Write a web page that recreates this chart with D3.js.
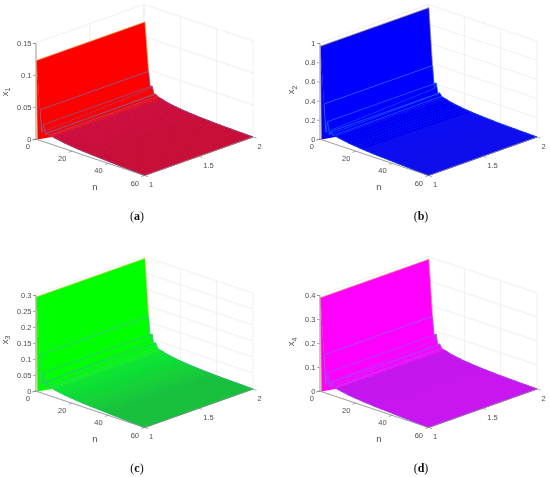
<!DOCTYPE html>
<html>
<head>
    <script type="text/javascript" src="https://cdn.jsdelivr.net/npm/d3@7/dist/d3.min.js"></script>
    <style>
        html, body { margin: 0; padding: 0; background: #fff; }
        text { font-family: "Liberation Sans", sans-serif; fill: #4d4d4d; }
    </style>
</head>
<body>
    <div id="viz"></div>
    <script type="text/javascript">

    // n samples along the surface, first one is the tall wall
    var nGrid = [0.5, 2.5, 3.5, 4.5, 5.5, 6.5, 7.5, 8.5, 9.5, 10.5, 12, 14, 16, 18, 20, 22, 24, 26, 28, 30, 32, 34, 36, 38, 40, 42, 44, 46, 48, 50, 52, 54, 56, 58, 60];

    var nTicks = [0, 20, 40, 60];
    var mTicks = [1, 1.5, 2];

    // values along the m=1 edge and the m=2 edge
    var x1Front = [.123, .048, .014, .027, .0125, .016, .0125, .0125, .0125, .0119, .0109, .01, .009, .0083, .0076, .007, .0064, .0059, .0055, .005, .0047, .0044, .0041, .0037, .0034, .003, .0027, .0023, .002, .0017, .0014, .0011, .0007, .0003, 0];
    var x1Back = [.123, .048, .022, .027, .0155, .016, .0137, .0128, .0119, .0111, .0097, .0084, .0075, .0066, .0058, .0051, .0045, .0041, .0036, .0031, .0028, .0025, .0022, .0019, .0016, .0014, .0012, .001, .0009, .0007, .0006, .0004, .0003, .0002, 0];
    var x2Front = [.97, .38, .094, .21, .083, .12, .083, .083, .083, .079, .073, .067, .06, .055, .051, .047, .043, .04, .036, .033, .031, .029, .027, .025, .023, .02, .018, .016, .014, .011, .009, .007, .005, .002, 0];
    var x2Back = [.97, .38, .146, .21, .104, .12, .092, .085, .079, .074, .064, .056, .05, .044, .038, .034, .03, .027, .024, .021, .019, .017, .015, .012, .011, .009, .008, .007, .006, .005, .004, .003, .002, .001, 0];
    var x3Front = [.295, .118, .028, .066, .025, .043, .025, .025, .025, .0238, .0219, .02, .0181, .0166, .0153, .0141, .0128, .0119, .0109, .01, .0094, .0088, .0081, .0075, .0069, .0059, .0053, .0047, .0041, .0034, .0028, .0022, .0014, .0006, 0];
    var x3Back = [.295, .118, .044, .066, .031, .043, .0275, .0256, .0238, .0222, .0194, .0169, .015, .0131, .0116, .0103, .0091, .0081, .0072, .0063, .0056, .005, .0044, .0038, .0033, .0028, .0024, .0021, .0018, .0014, .0012, .0009, .0006, .0003, 0];
    var x4Front = [.39, .157, .038, .087, .033, .052, .033, .033, .033, .032, .029, .027, .024, .022, .02, .019, .017, .016, .015, .013, .0125, .0117, .0108, .01, .0092, .0079, .0071, .0063, .0054, .0046, .0038, .0029, .0019, .0008, 0];
    var x4Back = [.39, .157, .058, .087, .042, .052, .037, .034, .032, .03, .026, .023, .02, .018, .015, .014, .012, .011, .0096, .0083, .0075, .0067, .0058, .005, .0044, .0038, .0033, .0028, .0023, .0019, .0015, .0012, .0008, .0004, 0];

    var x1Ticks = [0, .05, .1, .15];
    var x2Ticks = [0, .2, .4, .6, .8, 1];
    var x3Ticks = [0, .05, .1, .15, .2, .25, .3];
    var x4Ticks = [0, .1, .2, .3, .4];

    var captions = ["a", "b", "c", "d"];
    var subs = ["1", "2", "3", "4"];

    // screen stuff per panel
    var panels = [
        { dx: 0,   dy: 0,   front: x1Front, back: x1Back, ticks: x1Ticks, wall: "#ff0000", mid: "#cc1040", flat: "#c81038", line: "#6e64aa", stripes: 0,   labelX: 7.5, labelY: 92, idx: 0 },
        { dx: 284, dy: 0,   front: x2Front, back: x2Back, ticks: x2Ticks, wall: "#0000ff", mid: "#0404f6", flat: "#0a0aee", line: "#2070f0", stripes: .18, labelX: 10,  labelY: 90, idx: 1 },
        { dx: 0,   dy: 252, front: x3Front, back: x3Back, ticks: x3Ticks, wall: "#00ff00", mid: "#0ce632", flat: "#18c03c", line: "#3cb496", stripes: .22, labelX: 7.5, labelY: 88, idx: 2 },
        { dx: 284, dy: 252, front: x4Front, back: x4Back, ticks: x4Ticks, wall: "#ff00ff", mid: "#c414ee", flat: "#c814f0", line: "#8a5af0", stripes: 0,   labelX: 10,  labelY: 90, idx: 3 }
    ];

    var originX = 35.5;
    var originY = 139;

    var nToX = d3.scaleLinear().domain([0, 60]).range([0, 109]);
    var nToY = d3.scaleLinear().domain([0, 60]).range([0, 36.5]);
    var mToX = d3.scaleLinear().domain([1, 2]).range([0, 108.5]);
    var mToY = d3.scaleLinear().domain([1, 2]).range([0, -38.5]);

    var svg = d3.select("#viz").append("svg")
        .attr("width", 550)
        .attr("height", 477)
        .style("display", "block");

    // the reference is a soft raster
    svg.append("defs").append("filter")
        .attr("id", "soft")
        .attr("x", 0).attr("y", 0).attr("width", 1).attr("height", 1)
        .append("feGaussianBlur")
        .attr("stdDeviation", 0.3);

    var root = svg.append("g").attr("filter", "url(#soft)");
    root.append("rect").attr("width", 550).attr("height", 477).attr("fill", "#fff");

    var line = d3.line();

    function drawPanel(p)
    {
        var zMax = p.ticks[p.ticks.length - 1];
        var zToY = d3.scaleLinear().domain([0, zMax]).range([0, -96]);

        // 3d -> screen
        function project(n, m, z)
        {
            return [originX + nToX(n) + mToX(m), originY + nToY(n) + mToY(m) + zToY(z)];
        }

        var g = root.append("g").attr("transform", "translate(" + p.dx + "," + p.dy + ")");

        function drawLine(pts, color, width, opacity)
        {
            g.append("path")
                .attr("d", line(pts))
                .attr("fill", "none")
                .attr("stroke", color)
                .attr("stroke-width", width)
                .attr("stroke-opacity", opacity === undefined ? 1 : opacity);
        }

        // grid on the two back walls and the floor
        var gridColor = "#e9e9e9";
        p.ticks.forEach(function(t) {
            if( t === 0 ) return;
            drawLine([project(0, 1, t), project(0, 2, t), project(60, 2, t)], gridColor, 0.7);
        });
        nTicks.forEach(function(t) {
            drawLine([project(t, 1, 0), project(t, 2, 0), project(t, 2, zMax)], gridColor, 0.7);
        });
        mTicks.forEach(function(t) {
            drawLine([project(60, t, 0), project(0, t, 0), project(0, t, zMax)], gridColor, 0.7);
        });

        // lower left piece under the first ridges
        var skirt = [project(1, 1, 0), project(nGrid[8], 1, p.front[8])];
        for( var s = 7; s >= 0; s-- )
        {
            skirt.push(project(nGrid[s], 1, p.front[s]));
        }
        g.append("path").attr("d", line(skirt) + "Z").attr("fill", p.wall);

        // facets, back to front so the later ones cover the earlier ones
        var color = d3.scaleLinear()
            .domain([6.5, 10, 40])
            .range([p.wall, p.mid, p.flat])
            .clamp(true);

        for( var i = 0; i < nGrid.length - 1; i++ )
        {
            var a0 = project(nGrid[i], 1, p.front[i]);
            var a1 = project(nGrid[i], 2, p.back[i]);
            var b1 = project(nGrid[i + 1], 2, p.back[i + 1]);
            var b0 = project(nGrid[i + 1], 1, p.front[i + 1]);
            var c = color(nGrid[i]);
            g.append("path")
                .attr("d", line([a0, a1, b1, b0]) + "Z")
                .attr("fill", c)
                .attr("stroke", c)
                // thicker stroke on the flat part so no seams show between facets
                .attr("stroke-width", i >= 8 ? 1 : 0.4);

            if( p.stripes > 0 && i > 5 && i < 24 )
            {
                drawLine([b0, b1], p.line, 0.5, p.stripes);
            }
        }

        // mesh lines on the ridges
        for( var r = 1; r <= 6; r++ )
        {
            drawLine([project(nGrid[r], 1, p.front[r]), project(nGrid[r], 2, p.back[r])], p.line, 0.7, r % 2 === 1 ? 1 : 0.7);
        }
        var frontEdge = [];
        var backEdge = [];
        for( var e = 1; e < nGrid.length; e++ )
        {
            if( e <= 6 ) frontEdge.push(project(nGrid[e], 1, p.front[e]));
            backEdge.push(project(nGrid[e], 2, p.back[e]));
        }
        drawLine(frontEdge, p.line, 0.7);
        drawLine(backEdge, p.line, 0.7, 0.8);

        // lower edge of the flat part
        var lowEdge = [];
        for( var f = 8; f < nGrid.length; f++ )
        {
            lowEdge.push(project(nGrid[f], 1, p.front[f]));
        }
        drawLine(lowEdge, p.line, 0.6, 0.7);

        // thin light edge round the wall
        drawLine([project(1, 1, 0), project(nGrid[0], 1, p.front[0]), project(nGrid[0], 2, p.back[0]), project(nGrid[1], 2, p.back[1])], "#f5c842", 0.7, 0.75);

        // n and m axes
        var axisColor = "#8a8a8a";
        drawLine([project(0, 1, 0), project(60, 1, 0), project(60, 2, 0)], axisColor, 0.8);

        nTicks.forEach(function(t) {
            drawLine([project(t, 1, 0), project(t, 0.97, 0)], axisColor, 0.7);
            var pt = project(t, 1, 0);
            g.append("text")
                .attr("x", pt[0] - 5.5)
                .attr("y", pt[1] + 10)
                .attr("text-anchor", "end")
                .attr("font-size", 7.5)
                .text(t);
        });

        mTicks.forEach(function(t) {
            drawLine([project(60, t, 0), project(62, t, 0)], axisColor, 0.7);
            var pt = project(60, t, 0);
            g.append("text")
                .attr("x", pt[0] + 4.5)
                .attr("y", pt[1] + 11.5)
                .attr("font-size", 7.5)
                .text(t);
        });

        // z axis on the left edge
        var zAxis = d3.axisLeft(d3.scaleLinear().domain([0, zMax]).range([originY, originY - 96]))
            .tickValues(p.ticks)
            .tickSize(2.5)
            .tickPadding(1.5)
            .tickFormat(function(d) { return String(d); });

        var zg = g.append("g")
            .attr("transform", "translate(" + originX + ",0)")
            .call(zAxis);
        zg.selectAll("text").attr("font-size", 7.5).style("font-family", "Liberation Sans");
        zg.selectAll("line").attr("stroke", axisColor).attr("stroke-width", 0.7);
        zg.select(".domain").attr("stroke", axisColor).attr("stroke-width", 0.8);

        // axis titles
        g.append("text")
            .attr("x", 95)
            .attr("y", 190)
            .attr("text-anchor", "middle")
            .attr("font-size", 9.5)
            .text("n");

        var lab = g.append("text")
            .attr("transform", "translate(" + p.labelX + "," + p.labelY + ") rotate(-90)")
            .attr("text-anchor", "middle")
            .attr("font-size", 9.5)
            .text("x");
        lab.append("tspan")
            .attr("dy", 2.5)
            .attr("font-size", 7)
            .text(subs[p.idx]);

        // caption
        var cap = g.append("text")
            .attr("x", 137)
            .attr("y", 220)
            .attr("text-anchor", "middle")
            .attr("font-size", 12)
            .style("font-family", "Liberation Serif")
            .style("fill", "#111")
            .text("(");
        cap.append("tspan").attr("font-weight", "bold").text(captions[p.idx]);
        cap.append("tspan").text(")");
    }

    panels.forEach(drawPanel);

    </script>
</body>
</html>
